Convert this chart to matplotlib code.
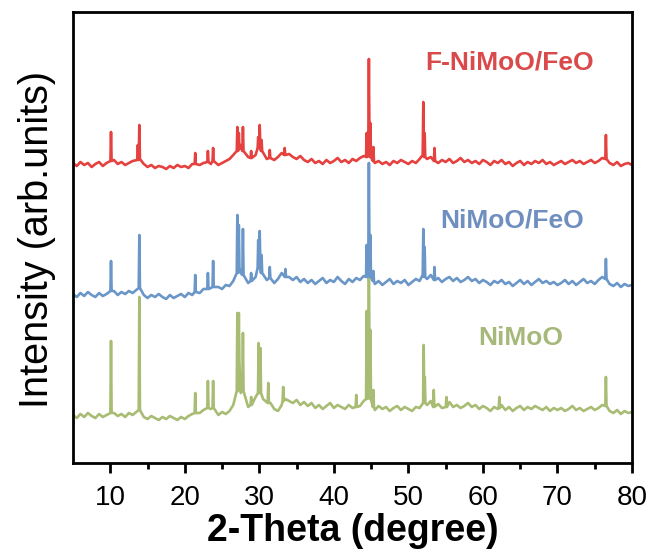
import matplotlib
matplotlib.use("Agg")
import matplotlib.pyplot as plt
import numpy as np

plt.rcParams["font.family"] = ["Liberation Sans", "DejaVu Sans"]

# baseline samples every 0.5 deg from 5 to 80 (arb. units)
theta_grid = np.arange(5.0, 80.01, 0.5)

red_base = [
    300, 297, 301, 298, 300, 296, 299, 301, 297, 300, 302,
    303, 299, 301, 298, 300, 302, 305, 303,
    299, 296, 298, 295, 297, 296, 294, 297, 295, 298, 296, 297, 295, 299,
    301, 298, 300, 303, 299, 301, 298, 300, 302, 304,
    308, 312, 318, 312, 306, 305, 308, 314, 310, 304,
    308, 303, 306, 310, 312, 309, 306, 304, 307, 303,
    301, 304, 300, 302, 299, 303, 300, 302, 305, 301, 303, 300, 304, 302, 305, 307,
    310, 303, 300, 302, 299, 301, 298, 302, 300, 303, 301, 299, 302, 300, 304, 308,
    304, 306, 302, 300, 303, 301, 304, 300, 302, 305, 301, 303, 300, 302, 299, 303,
    301, 298, 302, 300, 303, 299, 301, 297, 300, 302, 298, 301, 299, 302, 300, 303, 299, 301, 298, 300,
    302, 299, 301, 303, 300, 302, 299, 301, 303, 300, 302, 305,
    306, 300, 298, 301, 297, 299, 300, 298,
]
blue_base = [
    169, 166, 170, 167, 171, 168, 166, 170, 167, 169, 171,
    172, 168, 171, 169, 172, 170, 173, 175,
    168, 165, 168, 166, 169, 166, 164, 168, 165, 167, 169, 166, 170, 168,
    172, 170, 174, 171, 175, 173, 176, 174, 178, 177,
    182, 186, 190, 184, 180, 182, 186, 192, 188, 183,
    186, 180, 184, 190, 188, 186, 183, 186, 181, 184,
    180, 183, 179, 182, 185, 180, 183, 181, 186, 182, 179, 184, 181, 185, 183, 187,
    190, 183, 179, 182, 178, 181, 184, 179, 182, 180, 183, 178, 181, 184, 182, 186,
    184, 188, 182, 185, 181, 184, 186, 182, 185, 181, 183, 186, 182, 184, 180, 183,
    181, 178, 182, 180, 183, 179, 181, 177, 180, 183, 179, 182, 178, 181, 184, 180, 182, 179, 181, 178,
    180, 183, 179, 182, 178, 181, 184, 180, 182, 179, 183, 186,
    184, 179, 177, 180, 176, 179, 177, 178,
]
green_base = [
    48, 45, 49, 46, 50, 47, 45, 49, 46, 48, 50,
    50, 47, 49, 46, 50, 48, 51, 53,
    46, 44, 47, 45, 43, 46, 44, 47, 45, 43, 46, 44, 47, 49,
    52, 50, 53, 51, 54, 50, 48, 51, 49, 52,
    58, 64, 70, 60, 56, 60, 66, 72, 64, 58,
    60, 54, 52, 58, 64, 62, 60, 63, 58, 61,
    57, 60, 55, 58, 54, 57, 60, 55, 58, 56, 54, 58, 55, 60, 57, 62,
    64, 56, 53, 57, 54, 56, 52, 55, 57, 53, 56, 54, 52, 56, 55, 60,
    58, 62, 56, 59, 55, 58, 61, 56, 58, 55, 57, 60, 56, 58, 54, 57,
    55, 52, 56, 54, 58, 53, 56, 52, 55, 57, 53, 56, 54, 57, 55, 53, 56, 52, 55, 53,
    55, 52, 54, 57, 53, 55, 52, 54, 56, 53, 55, 58,
    57, 52, 50, 53, 49, 52, 50, 51,
]

# reflections: (2-theta, peak top, foot level)
red_peaks = [
    (10.1, 331, 302), (13.7, 318, 303), (13.9, 338, 304), (21.4, 310, 299),
    (23.1, 312, 301), (23.8, 315, 302), (27.05, 336, 312), (27.25, 330, 314),
    (27.8, 336, 312), (28.9, 312, 305), (29.85, 326, 315), (30.05, 338, 318),
    (30.3, 323, 312), (31.4, 313, 305), (33.4, 315, 308), (44.4, 330, 306),
    (44.7, 404, 318), (44.9, 340, 306), (45.3, 316, 302), (52.0, 361, 308),
    (52.18, 330, 306), (53.5, 315, 302), (76.5, 328, 304),
]
blue_peaks = [
    (10.1, 202, 172), (13.9, 228, 175), (21.4, 188, 171), (23.1, 190, 174),
    (23.8, 202, 176), (27.05, 248, 190), (27.25, 238, 195), (27.8, 234, 188),
    (28.9, 190, 182), (29.85, 223, 195), (30.05, 232, 200), (30.3, 208, 190),
    (31.4, 196, 185), (33.5, 194, 186), (44.4, 218, 186), (44.7, 300, 200),
    (44.9, 228, 186), (45.3, 192, 182), (52.0, 234, 188), (52.18, 216, 186),
    (53.5, 196, 183), (76.5, 204, 184),
]
green_peaks = [
    (10.1, 122, 50), (13.9, 166, 53), (21.4, 70, 50), (23.1, 82, 55),
    (23.8, 82, 55), (27.05, 150, 72), (27.25, 150, 100), (27.8, 130, 72),
    (28.9, 66, 58), (29.9, 120, 70), (30.15, 115, 70), (31.2, 80, 60),
    (33.2, 76, 62), (43.0, 68, 56), (44.4, 152, 64), (44.7, 218, 100),
    (44.9, 133, 64), (45.3, 73, 56), (52.05, 118, 60), (52.2, 86, 60),
    (53.4, 73, 56), (55.1, 66, 56), (62.2, 66, 55), (76.5, 86, 57),
]

samples = ["NiMoO", "NiMoO/FeO", "F-NiMoO/FeO"]
line_colors = ["#A8BC74", "#6A96C8", "#E5413F"]
text_colors = ["#A6B97A", "#6E8FBF", "#D94A4A"]
label_pos = [(65.1, 125), (63.9, 243), (63.6, 400)]


def build_trace(base, peaks, half=0.08):
    centers = [p[0] for p in peaks]
    pts = [(t, b) for t, b in zip(theta_grid, base)
           if min(abs(t - c) for c in centers) > 0.2]
    for c, top, foot in peaks:
        pts += [(c - half, foot), (c, top), (c + half, foot)]
    pts.sort()
    x, y = zip(*pts)
    return np.array(x), np.array(y)


fig = plt.figure(figsize=(6.49, 5.5), dpi=100)
ax = fig.add_axes([73 / 649, 87 / 550, 559 / 649, 451 / 550])

for base, peaks, color in zip([green_base, blue_base, red_base],
                              [green_peaks, blue_peaks, red_peaks], line_colors):
    x, y = build_trace(base, peaks)
    ax.plot(x, y, color=color, lw=1.9)

for name, color, (lx, ly) in zip(samples, text_colors, label_pos):
    ax.text(lx, ly, name, color=color, fontsize=19, fontweight="bold",
            ha="center", va="center")

ax.set_xlim(5, 80)
ax.set_ylim(0, 451)
ax.set_xticks(range(10, 81, 10))
ax.set_xticks(range(15, 80, 10), minor=True)
ax.set_yticks([])
for s in ax.spines.values():
    s.set_linewidth(2)
ax.tick_params(axis="x", which="major", direction="out", length=7, width=2,
               labelsize=20, pad=9)
ax.tick_params(axis="x", which="minor", direction="out", length=4, width=2)

ax.set_xlabel("2-Theta (degree)", fontsize=27, fontweight="bold", labelpad=1)
ax.set_ylabel("Intensity (arb.units)", fontsize=28.5, va="center")
ax.yaxis.set_label_coords(-0.064, 0.495)

fig.savefig("out.png", dpi=100)
